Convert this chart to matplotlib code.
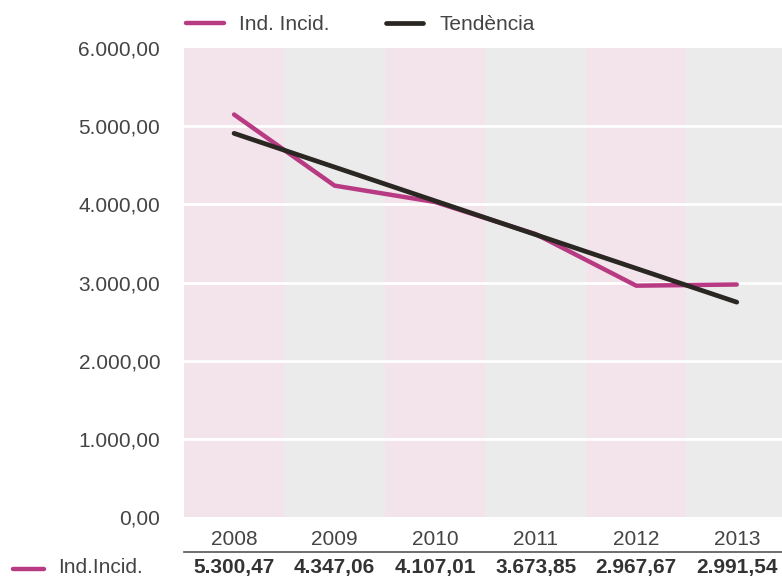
import matplotlib
matplotlib.use("Agg")
import matplotlib.pyplot as plt
from matplotlib.lines import Line2D
import matplotlib.transforms as mtransforms

# data
years = ["2008", "2009", "2010", "2011", "2012", "2013"]
ind_incid = [5150, 4240, 4030, 3620, 2960, 2975]
tendencia = [4909, 4477, 4045, 3613, 3181, 2749]
table_vals = ["5.300,47", "4.347,06", "4.107,01", "3.673,85", "2.967,67", "2.991,54"]
y_ticks = [0, 1000, 2000, 3000, 4000, 5000, 6000]
y_labels = ["0,00", "1.000,00", "2.000,00", "3.000,00", "4.000,00", "5.000,00", "6.000,00"]

PINK = "#B83A82"
DARK = "#2A2622"
TXT = "#444444"
BAND_PINK = "#F2E4EA"
BAND_GRAY = "#EBEBEB"

plt.rcParams["font.family"] = ["Liberation Sans", "DejaVu Sans"]

fig = plt.figure(figsize=(7.82, 5.79), dpi=100)
ax = fig.add_axes([0.235, 0.107, 0.765, 0.81])

x = list(range(len(years)))
for i in x:
    ax.axvspan(i - 0.5, i + 0.5, color=BAND_PINK if i % 2 == 0 else BAND_GRAY,
               lw=0, zorder=0)
for t in y_ticks[1:-1]:
    ax.axhline(t, color="white", lw=2, zorder=1)

ax.plot(x, ind_incid, color=PINK, lw=3.2, solid_capstyle="round", zorder=3,
        label="Ind. Incid.")
ax.plot(x, tendencia, color=DARK, lw=3.4, solid_capstyle="round", zorder=4,
        label="Tendència")

ax.set_xlim(-0.5, 5.45)
ax.set_ylim(0, 6000)
ax.set_yticks(y_ticks)
ax.set_yticklabels(y_labels, fontsize=15, color=TXT)
ax.set_xticks(x)
ax.set_xticklabels(years, fontsize=15, color=TXT)
ax.tick_params(length=0, pad=17, axis="y")
ax.tick_params(length=0, pad=9, axis="x")
for s in ax.spines.values():
    s.set_visible(False)

# legend on top
fig.legend(loc="center left", bbox_to_anchor=(0.214, 0.958), ncol=2,
           frameon=False, fontsize=15, handlelength=1.8, handletextpad=0.75,
           columnspacing=2.7, labelcolor=TXT)

# data table row below the axis
trans = mtransforms.blended_transform_factory(ax.transData, fig.transFigure)
ax.plot([-0.5, 5.45], [0.047, 0.047], transform=trans, color="#555555", lw=1.2,
        clip_on=False)
for i, v in enumerate(table_vals):
    ax.text(i, 0.019, v, transform=trans, ha="center", va="center",
            fontsize=15, fontweight="bold", color="#333333")
fig.add_artist(Line2D([0.016, 0.056], [0.017, 0.017], color=PINK, lw=3.2,
                      solid_capstyle="round", transform=fig.transFigure))
fig.text(0.074, 0.019, "Ind.Incid.", ha="left", va="center", fontsize=15,
         color=TXT)

fig.savefig("out.png", dpi=100)
